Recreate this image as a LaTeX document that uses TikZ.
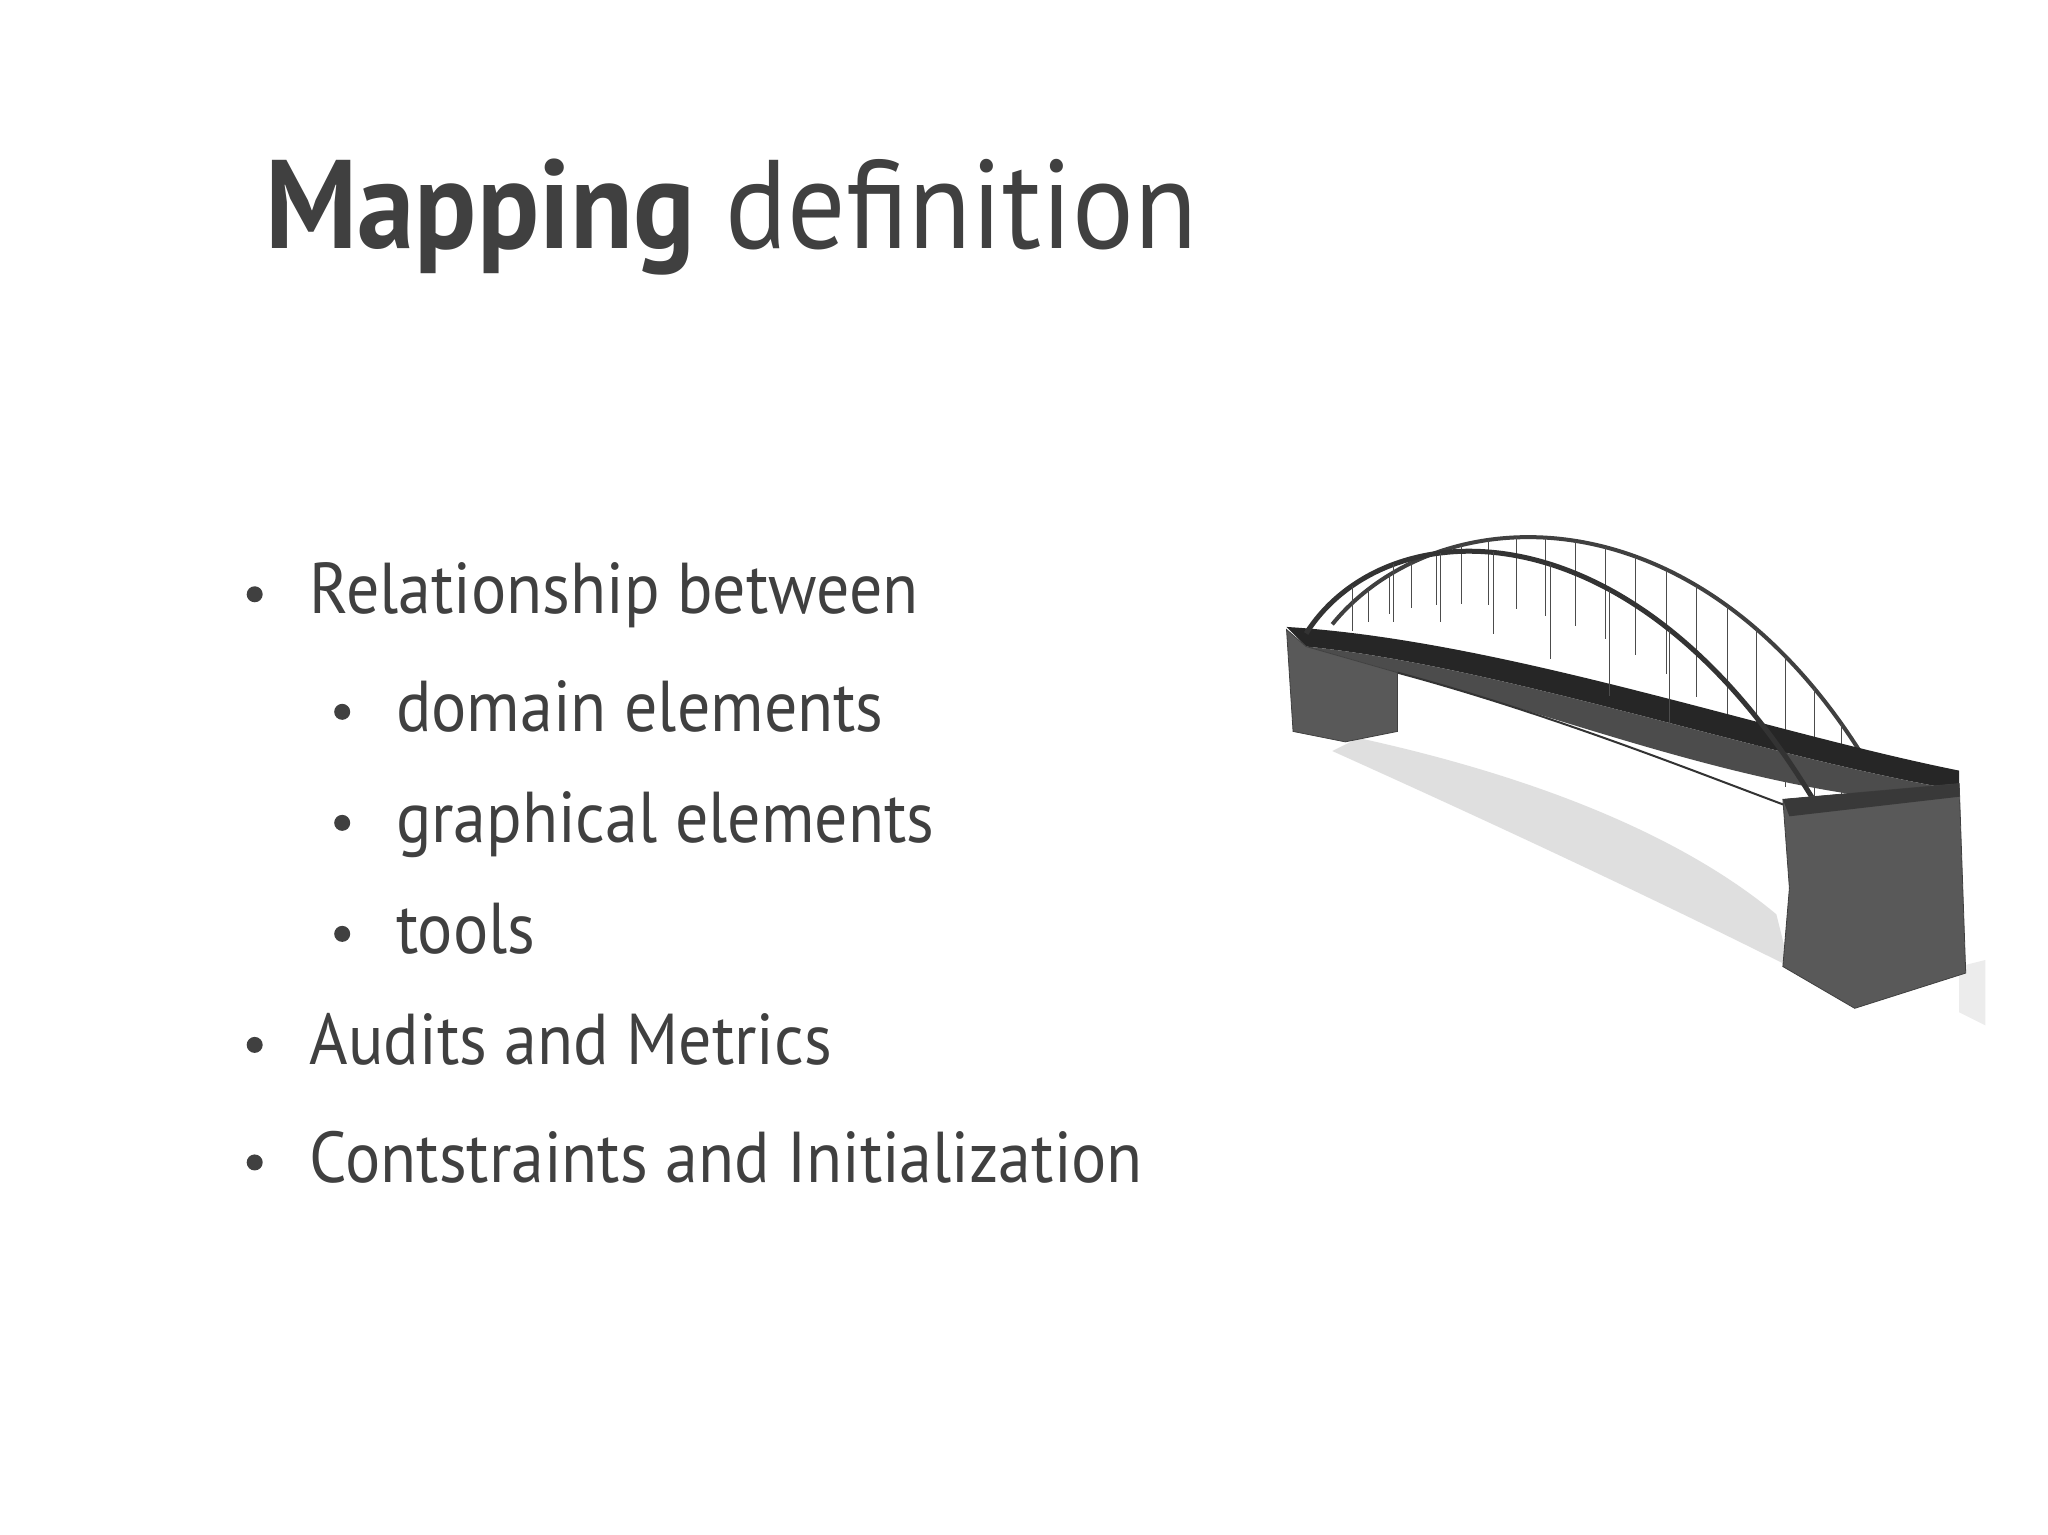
\documentclass[tikz,border=0pt]{standalone}
\usepackage{fontspec}
\setmainfont[FakeStretch=0.915]{PT Sans}
\definecolor{txt}{HTML}{404040}
\tikzset{
 item/.style={anchor=base west,inner sep=0pt,font=\fontsize{36}{40}\selectfont,text=txt},
 dot/.style={circle,fill=txt,inner sep=0pt,minimum size=8pt},
 pier/.style={fill=gray!70!black,draw=gray!50!black},
 cable/.style={gray!60!black,line width=0.5pt}
}
\begin{document}
\begin{tikzpicture}[x=0.6531pt,y=-0.6531pt]
\useasboundingbox (0,0) rectangle (1568,1175);
\fill[white] (0,0) rectangle (1568,1175);
\node[anchor=base west,inner sep=0pt,font=\fontsize{63}{70}\selectfont,text=txt] (title) at (203,190) {\textbf{Mapping} definition};
\node[item] (i1) at (237,470) {Relationship between};
\node[item] (i2) at (303,560) {domain elements};
\node[item] (i3) at (303,645) {graphical elements};
\node[item] (i4) at (303,730) {tools};
\node[item] (i5) at (237,815) {Audits and Metrics};
\node[item] (i6) at (237,905) {Contstraints and Initialization};
\foreach \y in {455,800,890} \node[dot] at (195,\y) {};
\foreach \y in {545,630,715} \node[dot] at (262,\y) {};
% shadow
\fill[gray!25] (1040,565) .. controls (1200,600) and (1300,650) .. (1360,700) -- (1370,740) .. controls (1250,680) and (1120,620) .. (1020,575) -- cycle;
\fill[gray!15] (1500,740) -- (1520,735) -- (1520,785) -- (1500,775) -- cycle;
% back arch
\draw[gray!50!black,line width=2pt] (1020,478) .. controls (1100,380) and (1300,370) .. (1430,585);
\foreach \t in {0.1,0.15,...,0.95}{
 \path (1020,478) .. controls (1100,380) and (1300,370) .. (1430,585) coordinate[pos=\t] (a);
 \draw[cable] (a) -- ++(0,{100*\t+15});
}
% deck
\fill[black!85] (985,480) .. controls (1150,490) and (1350,560) .. (1500,590) -- (1500,605) .. controls (1350,580) and (1150,510) .. (1000,495) -- cycle;
\fill[gray!60!black] (1000,495) .. controls (1150,510) and (1350,580) .. (1500,605) -- (1490,615) .. controls (1350,610) and (1200,550) .. (1070,515) -- cycle;
\draw[gray!40!black,line width=1pt] (1070,515) .. controls (1200,550) and (1320,600) .. (1390,625);
% front arch
\draw[gray!40!black,line width=2.5pt] (1000,485) .. controls (1060,390) and (1250,380) .. (1390,615);
\foreach \t in {0.15,0.25,...,0.85}{
 \path (1000,485) .. controls (1060,390) and (1250,380) .. (1390,615) coordinate[pos=\t] (b);
 \draw[cable] (b) -- ++(0,{95*\t+20});
}
% piers
\fill[pier] (985,482) -- (1000,495) -- (1070,515) -- (1070,560) -- (1030,568) -- (990,560) -- cycle;
\fill[pier] (1365,612) -- (1500,600) -- (1505,745) -- (1420,772) -- (1365,740) -- (1370,680) -- cycle;
\fill[gray!45!black] (1365,612) -- (1500,600) -- (1500,610) -- (1370,625) -- cycle;
\end{tikzpicture}
\end{document}
